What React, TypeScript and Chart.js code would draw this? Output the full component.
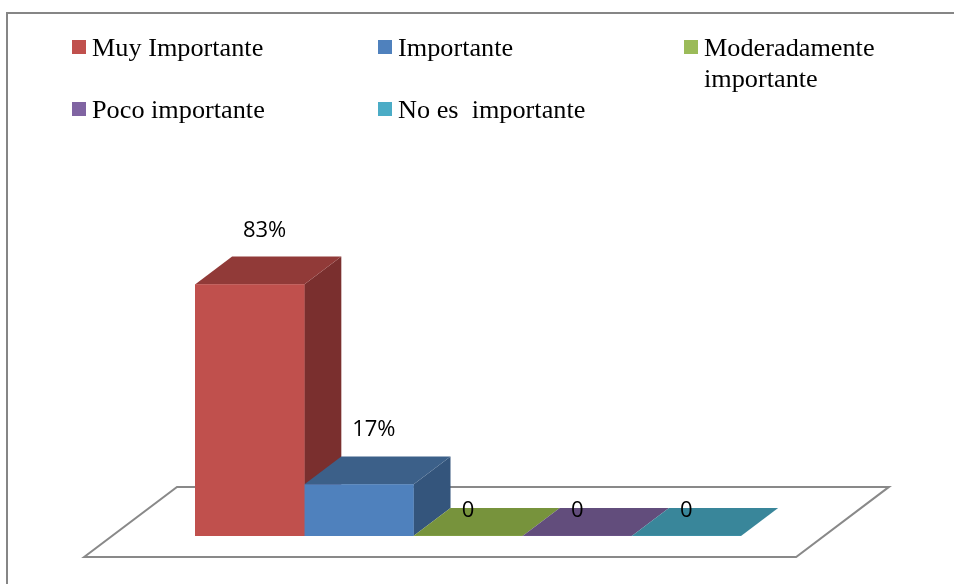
import React, { useEffect, useRef } from 'react';
import { Chart, registerables } from 'chart.js';

Chart.register(...registerables);

// ---- data ----
const categories = ['Importancia'];
const seriesNames = ['Muy Importante', 'Importante', 'Moderadamente importante', 'Poco importante', 'No es  importante'];
const seriesValues = [83, 17, 0, 0, 0];
const dataLabels = ['83%', '17%', '0', '0', '0'];
const yMin = 0;
const yMax = 100;

// ---- styles ----
const frontColors = ['#C0504D', '#4F81BD', '#9BBB59', '#8064A2', '#4BACC6'];
const topColors = ['#913A38', '#3C6089', '#77933C', '#624D7C', '#39869A'];
const sideColors = ['#7A2F2E', '#34557C', '#667F33', '#53416A', '#317487'];

const threeDPlugin = {
  id: 'threeD',
  beforeDatasetsDraw(chart: any) {
    const ctx = chart.ctx;
    const bars = chart.data.datasets.map((_: any, i: number) =>
      chart.getDatasetMeta(i).data[0].getProps(['x', 'y', 'base', 'width'], true)
    );
    const w = bars[0].width;
    const dx = w * 0.34;
    const dy = -w * 0.257;
    const leftMost = bars[0].x - w / 2;
    const rightMost = bars[bars.length - 1].x + w / 2;
    const base = bars[0].base;

    ctx.save();
    // outer frame
    ctx.strokeStyle = '#868686';
    ctx.lineWidth = 2;
    ctx.strokeRect(7, 13, chart.width + 20, chart.height + 20);

    // floor
    const ext = w * 0.76;
    const fx0 = leftMost - ext - 0.75 * dx;
    const fx1 = rightMost + ext - 0.75 * dx;
    const fy = base - 0.75 * dy;
    const bdx = 2.5 * dx;
    const bdy = 2.5 * dy;
    ctx.beginPath();
    ctx.moveTo(fx0, fy);
    ctx.lineTo(fx1, fy);
    ctx.lineTo(fx1 + bdx, fy + bdy);
    ctx.lineTo(fx0 + bdx, fy + bdy);
    ctx.closePath();
    ctx.fillStyle = '#FFFFFF';
    ctx.fill();
    ctx.strokeStyle = '#898989';
    ctx.lineWidth = 2;
    ctx.stroke();

    // side and top faces, left to right
    bars.forEach((b: any, i: number) => {
      const l = b.x - b.width / 2;
      const r = b.x + b.width / 2;
      const top = Math.min(b.y, b.base);
      if (b.base - top > 0.5) {
        ctx.beginPath();
        ctx.moveTo(r, top);
        ctx.lineTo(r + dx, top + dy);
        ctx.lineTo(r + dx, b.base + dy);
        ctx.lineTo(r, b.base);
        ctx.closePath();
        ctx.fillStyle = sideColors[i];
        ctx.fill();
      }
      ctx.beginPath();
      ctx.moveTo(l, top);
      ctx.lineTo(l + dx, top + dy);
      ctx.lineTo(r + dx, top + dy);
      ctx.lineTo(r, top);
      ctx.closePath();
      ctx.fillStyle = topColors[i];
      ctx.fill();
    });
    ctx.restore();
  },
  afterDatasetsDraw(chart: any) {
    const ctx = chart.ctx;
    ctx.save();
    ctx.fillStyle = '#000000';
    ctx.font = '22px "Open Sans", "Liberation Sans", sans-serif';
    ctx.textAlign = 'center';
    ctx.textBaseline = 'alphabetic';
    chart.data.datasets.forEach((ds: any, i: number) => {
      const b = chart.getDatasetMeta(i).data[0].getProps(['x', 'y', 'base', 'width'], true);
      const v = ds.data[0];
      if (v > 0) {
        ctx.fillText(dataLabels[i], b.x + 15, b.y - 48);
      } else {
        ctx.fillText(dataLabels[i], b.x, b.base - 19);
      }
    });
    ctx.restore();
  },
  afterDraw(chart: any) {
    // legend in a three-column grid
    const ctx = chart.ctx;
    const colX = [72, 378, 684];
    const sq = 14;
    const lineH = 31;
    const stretch = 1.05;
    const maxW = 250;
    ctx.save();
    ctx.font = '25px "Liberation Serif", "Times New Roman", serif';
    ctx.textBaseline = 'alphabetic';
    ctx.textAlign = 'left';
    let rowTop = 40;
    const items = chart.data.datasets.map((ds: any, i: number) => ({ text: ds.label, color: frontColors[i] }));
    for (let r = 0; r < items.length; r += 3) {
      let maxLines = 1;
      for (let c = 0; c < 3 && r + c < items.length; c++) {
        const it = items[r + c];
        const x = colX[c];
        ctx.fillStyle = it.color;
        ctx.fillRect(x, rowTop, sq, sq);
        // wrap
        const words = it.text.split(' ');
        const lines: string[] = [];
        let cur = '';
        words.forEach((wd: string) => {
          const test = cur === '' ? wd : cur + ' ' + wd;
          if (cur !== '' && wd !== '' && ctx.measureText(test).width * stretch > maxW) {
            lines.push(cur);
            cur = wd;
          } else {
            cur = test;
          }
        });
        lines.push(cur);
        maxLines = Math.max(maxLines, lines.length);
        ctx.fillStyle = '#000000';
        lines.forEach((ln, k) => {
          ctx.save();
          ctx.translate(x + sq + 6, rowTop + 16 + k * lineH);
          ctx.scale(stretch, 1);
          ctx.fillText(ln, 0, 0);
          ctx.restore();
        });
      }
      rowTop += maxLines * lineH;
    }
    ctx.restore();
  },
};

export default function App() {
  const ref = useRef<HTMLCanvasElement | null>(null);
  useEffect(() => {
    document.body.style.margin = '0';
    const canvas = ref.current;
    if (!canvas) return;
    const chart = new Chart(canvas, {
      type: 'bar',
      data: {
        labels: categories,
        datasets: seriesNames.map((name, i) => ({
          label: name,
          data: [seriesValues[i]],
          backgroundColor: frontColors[i],
          borderWidth: 0,
          barPercentage: 1,
          categoryPercentage: 1,
        })),
      },
      options: {
        responsive: false,
        animation: false,
        layout: { padding: { left: 195, right: 213, top: 233, bottom: 48 } },
        scales: {
          x: { display: false, offset: true },
          y: { display: false, min: yMin, max: yMax },
        },
        plugins: {
          legend: { display: false },
          tooltip: { enabled: false },
        },
      },
      plugins: [threeDPlugin],
    });
    return () => chart.destroy();
  }, []);
  return (
    <div style={{ width: 954, height: 584, background: '#FFFFFF' }}>
      <canvas ref={ref} width={954} height={584} style={{ display: 'block' }} />
    </div>
  );
}
